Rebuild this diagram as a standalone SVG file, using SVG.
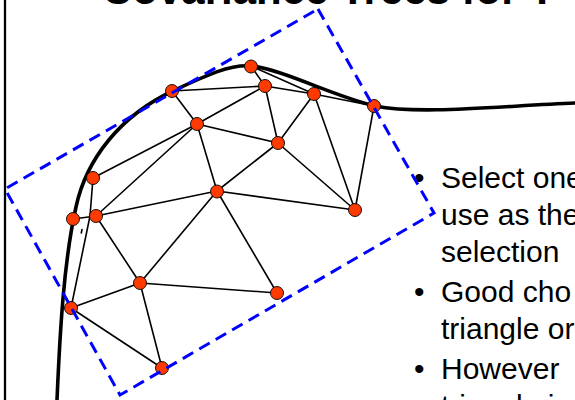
<svg xmlns="http://www.w3.org/2000/svg" width="575" height="400" viewBox="0 0 575 400">
<style>
.title{font-family:"Liberation Sans",Arial,sans-serif;font-weight:bold;font-size:42px;fill:#000}
.body{font-family:"Liberation Sans",Arial,sans-serif;font-size:30px;fill:#000}
.edge{stroke:#000;stroke-width:1.6;fill:none;stroke-linecap:round}
.node{fill:#FF3A00;stroke:#000;stroke-width:0.9}
.curve{stroke:#000;stroke-width:3.6;fill:none;stroke-linecap:round;stroke-linejoin:round}
.box{stroke:#0000FF;stroke-width:3;fill:none;stroke-dasharray:12 7}
</style>
<rect width="575" height="400" fill="#fff"/>
<line x1="5" y1="0" x2="5" y2="400" stroke="#000" stroke-width="2.3"/>
<text class="title" x="102" y="4">Covariance Trees for T</text>
<g id="bullets">
<text class="body" x="414" y="188">•</text>
<text class="body" x="441" y="188">Select one</text>
<text class="body" x="441" y="225">use as the</text>
<text class="body" x="441" y="262">selection</text>
<text class="body" x="414" y="302">•</text>
<text class="body" x="441" y="302">Good cho</text>
<text class="body" x="441" y="339">triangle or</text>
<text class="body" x="414" y="379">•</text>
<text class="body" x="441" y="379">However</text>
<text class="body" x="441" y="416">triangle i</text>
</g>
<path id="surface" class="curve" d="M57,400 C60,330 64,260 76,207 C86,160 120,115 175,90 C205,76 230,64 251,66 C285,70 330,95 375,106 C420,115 500,106 575,103"/>
<g id="connectors">
<line class="edge" x1="172" y1="91" x2="265" y2="86"/>
<line class="edge" x1="172" y1="91" x2="197" y2="124"/>
<line class="edge" x1="251" y1="66" x2="265" y2="86"/>
<line class="edge" x1="251" y1="66" x2="314" y2="94"/>
<line class="edge" x1="265" y1="86" x2="314" y2="94"/>
<line class="edge" x1="265" y1="86" x2="197" y2="124"/>
<line class="edge" x1="265" y1="86" x2="278" y2="143"/>
<line class="edge" x1="314" y1="94" x2="278" y2="143"/>
<line class="edge" x1="314" y1="94" x2="355" y2="210"/>
<line class="edge" x1="314" y1="94" x2="374" y2="106"/>
<line class="edge" x1="374" y1="106" x2="355" y2="210"/>
<line class="edge" x1="197" y1="124" x2="278" y2="143"/>
<line class="edge" x1="197" y1="124" x2="93" y2="178"/>
<line class="edge" x1="197" y1="124" x2="96" y2="216"/>
<line class="edge" x1="197" y1="124" x2="217" y2="191"/>
<line class="edge" x1="278" y1="143" x2="217" y2="191"/>
<line class="edge" x1="278" y1="143" x2="355" y2="210"/>
<line class="edge" x1="217" y1="191" x2="355" y2="210"/>
<line class="edge" x1="93" y1="178" x2="90" y2="216"/>
<line class="edge" x1="90" y1="216" x2="71" y2="308"/>
<line class="edge" x1="73" y1="219" x2="96" y2="216"/>
<line class="edge" x1="96" y1="216" x2="217" y2="191"/>
<line class="edge" x1="96" y1="216" x2="140" y2="283"/>
<line class="edge" x1="217" y1="191" x2="140" y2="283"/>
<line class="edge" x1="217" y1="191" x2="277" y2="293"/>
<line class="edge" x1="140" y1="283" x2="277" y2="293"/>
<line class="edge" x1="140" y1="283" x2="71" y2="308"/>
<line class="edge" x1="140" y1="283" x2="162" y2="368"/>
<line class="edge" x1="71" y1="308" x2="162" y2="368"/>
<line class="edge" x1="82" y1="229.5" x2="81.3" y2="233"/>
</g>
<g id="nodes">
<circle id="n1" class="node" cx="172" cy="91" r="6.5"/>
<circle id="n2" class="node" cx="251" cy="66.5" r="6.5"/>
<circle id="n3" class="node" cx="265" cy="86" r="6.5"/>
<circle id="n4" class="node" cx="314" cy="94" r="6.5"/>
<circle id="n5" class="node" cx="374" cy="106" r="6.5"/>
<circle id="n6" class="node" cx="197" cy="124" r="6.5"/>
<circle id="n7" class="node" cx="278" cy="143" r="6.5"/>
<circle id="n8" class="node" cx="93" cy="178" r="6.5"/>
<circle id="n9" class="node" cx="73" cy="219" r="6.5"/>
<circle id="n10" class="node" cx="96" cy="216" r="6.5"/>
<circle id="n11" class="node" cx="217" cy="191.5" r="6.5"/>
<circle id="n12" class="node" cx="355" cy="210" r="6.5"/>
<circle id="n13" class="node" cx="140" cy="283" r="6.5"/>
<circle id="n14" class="node" cx="277" cy="293" r="6.5"/>
<circle id="n15" class="node" cx="71" cy="308" r="6.5"/>
<circle id="n16" class="node" cx="162" cy="368" r="6.5"/>
</g>
<polygon id="bbox" class="box" points="318,9 434,213 120,395 5,189"/>
</svg>
